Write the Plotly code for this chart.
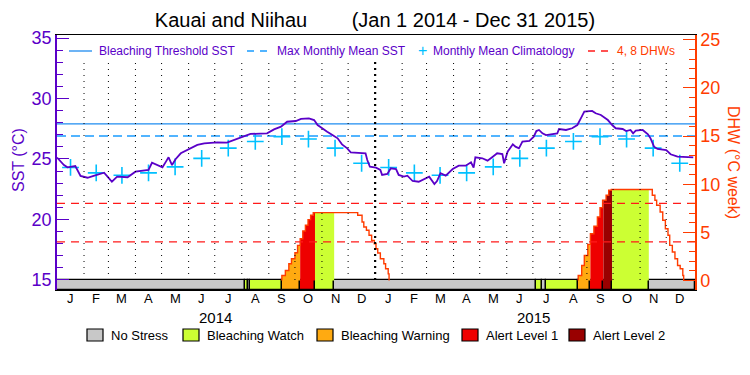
import pandas as pd
import plotly.graph_objects as go

START = pd.Timestamp("2014-01-01")

# ---------------- data ----------------
# daily SST (days since 2014-01-01)
sst_days = [0, 8, 12, 21, 27, 35, 42, 54, 58, 63, 69, 81, 90, 105, 109, 121, 125, 128, 132, 136,
            142, 149, 161, 169, 184, 195, 203, 211, 222, 241, 249, 257, 264, 274, 280, 289, 295, 299,
            304, 310, 316, 322, 327, 333, 337, 354, 356, 359, 366, 371, 373, 379, 383, 389, 392, 398,
            402, 408, 415, 421, 427, 433, 436, 440, 446, 454, 461, 469, 475, 478, 480, 488, 494, 500,
            505, 511, 513, 517, 523, 526, 530, 534, 542, 547, 550, 553, 557, 561, 568, 574, 576, 584,
            591, 597, 601, 605, 614, 618, 624, 632, 637, 641, 649, 653, 658, 661, 664, 672, 678, 681,
            685, 689, 699, 704, 712, 722, 730]
sst_values = [25.12, 24.50, 24.31, 24.42, 23.60, 23.45, 23.60, 23.87, 23.54, 23.12, 23.54, 23.49,
              23.95, 24.09, 24.69, 24.31, 24.78, 25.14, 24.50, 24.98, 25.47, 25.74, 26.16, 26.30,
              26.38, 26.35, 26.57, 26.79, 27.07, 27.12, 27.45, 27.67, 28.08, 28.14, 28.31, 28.36,
              28.22, 27.81, 27.59, 27.26, 26.98, 26.71, 26.21, 25.88, 25.55, 25.47, 24.92, 24.36,
              24.28, 24.09, 23.68, 23.76, 24.23, 24.17, 23.68, 23.54, 23.62, 23.18, 23.12, 23.35,
              23.54, 22.93, 23.18, 23.82, 23.62, 24.17, 24.45, 24.45, 24.73, 24.28, 25.14, 25.06,
              24.86, 25.19, 25.47, 25.41, 24.64, 25.60, 26.21, 26.02, 25.88, 26.43, 26.49, 26.84,
              27.31, 27.40, 27.12, 26.98, 27.07, 27.12, 27.48, 27.40, 27.54, 27.81, 28.36, 28.91,
              28.97, 28.78, 28.64, 28.22, 27.81, 27.54, 27.48, 27.31, 27.40, 27.12, 27.34, 27.40,
              27.04, 26.71, 26.02, 25.83, 25.74, 25.39, 25.19, 25.19, 25.14]

month_letters = ["J", "F", "M", "A", "M", "J", "J", "A", "S", "O", "N", "D"]
years = [2014, 2015]
clim_values = [24.30, 23.85, 23.65, 23.85, 24.35, 25.05, 25.90, 26.45, 26.85, 26.65, 25.90, 24.65]

bleaching_threshold = 27.9
max_monthly_mean = 26.9
dhw_guides = [4, 8]

dhw14_days = [258, 262, 266, 269, 273, 276, 279, 282, 285, 288, 291, 294, 345, 350, 352, 355,
              358, 361, 364, 366, 368, 371, 375, 377, 380, 381]
dhw14_values = [0.52, 1.04, 1.74, 2.26, 2.88, 3.65, 4.34, 5.14, 5.73, 6.32, 6.77, 7.05, 6.77, 6.08,
                5.56, 5.21, 4.69, 4.17, 3.82, 3.30, 2.85, 2.26, 1.74, 1.22, 0.69, 0.0]
dhw15_days = [598, 602, 605, 609, 612, 616, 620, 623, 626, 630, 633, 636, 683, 686, 688, 692,
              695, 698, 701, 703, 706, 709, 712, 715, 718, 719]
dhw15_values = [0.52, 1.56, 2.60, 3.75, 4.86, 5.63, 6.60, 7.57, 8.33, 8.85, 9.38, 9.45, 8.85, 8.33,
                7.81, 7.12, 6.25, 5.38, 4.69, 3.65, 2.95, 2.26, 1.56, 1.22, 0.52, 0.0]

stress_start_days = [0, 216, 219, 222, 258, 279, 296, 318, 550, 556, 561, 598, 612, 627, 637, 679]
stress_levels = [0, 1, 0, 1, 2, 3, 1, 0, 1, 0, 1, 2, 3, 4, 1, 0]
stress_end_day = 732
stress_names = ["No Stress", "Bleaching Watch", "Bleaching Warning", "Alert Level 1", "Alert Level 2"]
stress_colors = ["#c8c8c8", "#ccff33", "#ffaa11", "#ee0000", "#990000"]

# ---------------- style ----------------
PURPLE = "#5a00c8"
ORANGE = "#ff3c00"
FONT = "Liberation Sans"
L, R, T, B = 57, 695, 35, 290
W, H = R - L, B - T
Y_RANGE = [14.17, 35.25]
Y2_RANGE = [-0.99, 25.5]


def fx(px):
    return (px - L) / W


def fy(py):
    return (B - py) / H


def to_date(d):
    return START + pd.to_timedelta(d, unit="D")


def dates(ds):
    return [to_date(d) for d in ds]


fig = go.Figure()

# stress bar
ends = stress_start_days[1:] + [stress_end_day]
fig.add_trace(go.Bar(
    x=[to_date((s + e) / 2) for s, e in zip(stress_start_days, ends)],
    y=[-Y2_RANGE[0]] * len(stress_levels), base=Y2_RANGE[0],
    width=[(e - s) * 86400000 for s, e in zip(stress_start_days, ends)],
    marker=dict(color=[stress_colors[l] for l in stress_levels], line=dict(color="black", width=1.3)),
    yaxis="y2", showlegend=False, hoverinfo="skip"))

# DHW fills coloured by stress level
all_days = dhw14_days + dhw15_days
all_vals = dhw14_values + dhw15_values


def dhw_at(t):
    v = 0.0
    for d, val in zip(all_days, all_vals):
        if d <= t:
            v = val
    return v


for s, e, lev in zip(stress_start_days, ends, stress_levels):
    if lev == 0:
        continue
    xs = [s] + [d for d in all_days if s < d < e]
    ys = [dhw_at(d) for d in xs]
    xs.append(e)
    ys.append(ys[-1])
    if max(ys) <= 0:
        continue
    fig.add_trace(go.Scatter(x=dates(xs), y=ys, yaxis="y2", mode="lines",
                             line=dict(width=0, shape="hv"), fill="tozeroy",
                             fillcolor=stress_colors[lev], showlegend=False, hoverinfo="skip"))

# DHW outline
for days, vals in [(dhw14_days, dhw14_values), (dhw15_days, dhw15_values)]:
    fig.add_trace(go.Scatter(x=dates([days[0]] + days), y=[0] + vals, yaxis="y2", mode="lines",
                             line=dict(color=ORANGE, width=1.4, shape="hv"),
                             showlegend=False, hoverinfo="skip"))

# DHW guide lines
for g in dhw_guides:
    fig.add_trace(go.Scatter(x=[to_date(0), to_date(stress_end_day)], y=[g, g], yaxis="y2",
                             mode="lines", line=dict(color="#ff1a1a", width=1.3, dash="8px,6px"),
                             showlegend=False, hoverinfo="skip"))

# threshold lines
fig.add_trace(go.Scatter(x=[to_date(0), to_date(stress_end_day)], y=[bleaching_threshold] * 2,
                         mode="lines", line=dict(color="#1e8cf0", width=1.3),
                         showlegend=False, hoverinfo="skip"))
fig.add_trace(go.Scatter(x=[to_date(0), to_date(stress_end_day)], y=[max_monthly_mean] * 2,
                         mode="lines", line=dict(color="#1a9cff", width=1.5, dash="9px,5px"),
                         showlegend=False, hoverinfo="skip"))

# climatology
clim_x, clim_y = [], []
for yr in years:
    for m in range(12):
        ms = pd.Timestamp(year=yr, month=m + 1, day=1)
        clim_x.append(ms + (ms + pd.offsets.MonthBegin(1) - ms) / 2)
        clim_y.append(clim_values[m])
fig.add_trace(go.Scatter(x=clim_x, y=clim_y, mode="markers",
                         marker=dict(symbol="cross-thin", size=12, line=dict(color="#00c0ff", width=1.6)),
                         showlegend=False, hoverinfo="skip"))

# SST
fig.add_trace(go.Scatter(x=dates(sst_days), y=sst_values, mode="lines",
                         line=dict(color=PURPLE, width=1.8), showlegend=False, hoverinfo="skip"))

# ---------------- layout ----------------
shapes = []
month_starts = pd.date_range("2014-02-01", "2015-12-01", freq="MS")
for ms in month_starts:
    thick = (ms.month == 1)
    shapes.append(dict(type="line", xref="x", yref="paper", x0=ms, x1=ms, y0=fy(280), y1=fy(62),
                       layer="above",
                       line=dict(color="black", width=2.2 if thick else 1,
                                 dash="2px,4px" if thick else "1px,5px")))

# top legend samples
shapes.append(dict(type="line", xref="paper", yref="paper", x0=fx(69), x1=fx(92), y0=fy(51), y1=fy(51),
                   line=dict(color="#1e8cf0", width=1.3)))
shapes.append(dict(type="line", xref="paper", yref="paper", x0=fx(247), x1=fx(269), y0=fy(51), y1=fy(51),
                   line=dict(color="#1a9cff", width=1.5, dash="7px,6px")))
shapes.append(dict(type="line", xref="paper", yref="paper", x0=fx(588), x1=fx(612), y0=fy(51), y1=fy(51),
                   line=dict(color="#ff1a1a", width=1.3, dash="7px,6px")))

annotations = []


def ann(text, px, py, color="black", size=12, xanchor="left", angle=0):
    annotations.append(dict(text=text, x=fx(px), y=fy(py), xref="paper", yref="paper",
                            showarrow=False, xanchor=xanchor, yanchor="middle", textangle=angle,
                            font=dict(family=FONT, size=size, color=color)))


ann("Bleaching Threshold SST", 97, 51, PURPLE, 12)
ann("Max Monthly Mean SST", 275, 51, PURPLE, 12)
ann("+", 422, 50, "#00c0ff", 16, "center")
ann("Monthly Mean Climatology", 431, 51, PURPLE, 12)
ann("4, 8 DHWs", 615, 51, ORANGE, 12)
ann("SST (°C)", 18, 160, PURPLE, 16, "center", -90)
ann("DHW (°C week)", 734, 162, ORANGE, 16, "center", 90)

# month letters and year labels
for yr in years:
    for m in range(12):
        ms = pd.Timestamp(year=yr, month=m + 1, day=1)
        mid = ms + (ms + pd.offsets.MonthBegin(1) - ms) / 2
        annotations.append(dict(text=month_letters[m], x=mid, y=fy(298), xref="x", yref="paper",
                                showarrow=False, xanchor="center", yanchor="middle",
                                font=dict(family=FONT, size=13, color="black")))
    annotations.append(dict(text=str(yr), x=pd.Timestamp(year=yr, month=7, day=2), y=fy(317),
                            xref="x", yref="paper", showarrow=False, xanchor="center", yanchor="middle",
                            font=dict(family=FONT, size=15, color="black")))

# bottom legend
box_x = [87, 183, 317, 462, 569]
for i, name in enumerate(stress_names):
    shapes.append(dict(type="rect", xref="paper", yref="paper",
                       x0=fx(box_x[i]), x1=fx(box_x[i] + 16), y0=fy(341), y1=fy(329),
                       fillcolor=stress_colors[i], line=dict(color="black", width=1.2)))
    ann(name, box_x[i] + 22, 335, "black", 13)

fig.update_layout(
    width=750, height=375,
    margin=dict(l=L, r=750 - R, t=T, b=375 - B, autoexpand=False),
    paper_bgcolor="white", plot_bgcolor="white",
    font=dict(family=FONT),
    title=dict(text="Kauai and Niihau" + "\u00a0" * 8 + "(Jan 1 2014 - Dec 31 2015)",
               x=0.5, xanchor="center", y=1 - 20 / 375, yanchor="middle",
               font=dict(family=FONT, size=20, color="black")),
    xaxis=dict(range=[to_date(0), to_date(stress_end_day)], showticklabels=False,
               ticks="", showgrid=False, zeroline=False, automargin=False,
               showline=True, mirror=True, linecolor="black", linewidth=1.3),
    yaxis=dict(range=Y_RANGE, tickmode="linear", tick0=15, dtick=5, ticks="inside", ticklen=12,
               tickcolor=PURPLE, tickwidth=1.3, showline=True, linecolor=PURPLE, linewidth=1.5,
               showgrid=False, zeroline=False, automargin=False,
               tickfont=dict(family=FONT, size=18, color=PURPLE),
               minor=dict(tickmode="linear", tick0=15, dtick=1, ticks="inside", ticklen=6,
                          tickcolor=PURPLE, tickwidth=1.3, showgrid=False)),
    yaxis2=dict(range=Y2_RANGE, overlaying="y", side="right", tickmode="linear", tick0=0, dtick=5,
                ticks="inside", ticklen=12, tickcolor=ORANGE, tickwidth=1.3, showline=True,
                linecolor=ORANGE, linewidth=1.5, showgrid=False, zeroline=False, automargin=False,
                tickfont=dict(family=FONT, size=18, color=ORANGE),
                minor=dict(tickmode="linear", tick0=0, dtick=1, ticks="inside", ticklen=6,
                           tickcolor=ORANGE, tickwidth=1.3, showgrid=False)),
    shapes=shapes, annotations=annotations,
    bargap=0,
)

fig.write_html("out.html", config={"displayModeBar": False},
               post_script="document.body.style.margin='0px';")
